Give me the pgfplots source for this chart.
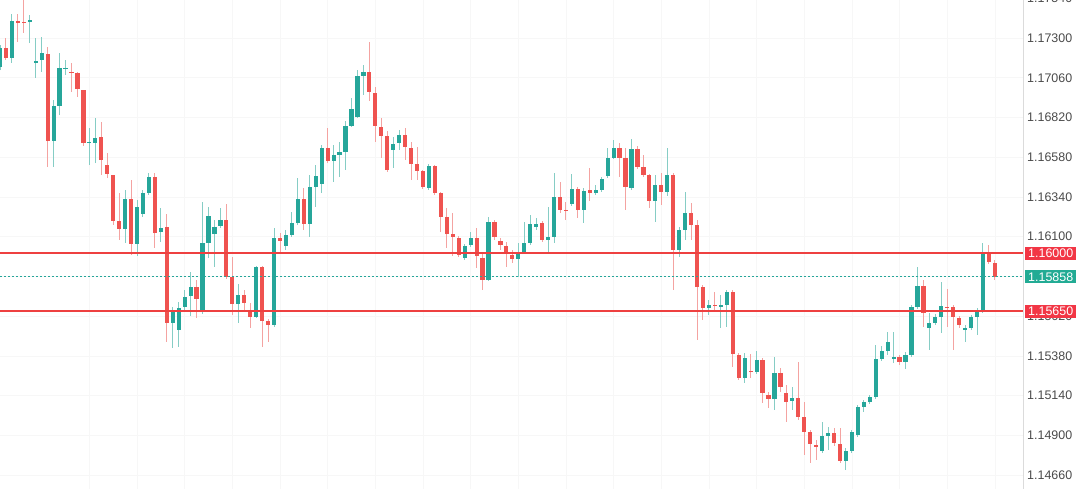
\documentclass[border=0pt]{standalone}
\usepackage{pgfplots}
\pgfplotsset{compat=1.18}
\usepackage{pgfplotstable}
\usepackage{fontspec}
\setmainfont{Liberation Sans}
\definecolor{upc}{HTML}{26A69A}
\definecolor{dnc}{HTML}{EF5350}
\definecolor{upw}{HTML}{86CDC5}
\definecolor{dnw}{HTML}{F4A3A1}
\definecolor{levelred}{RGB}{238,64,64}
\definecolor{tagred}{HTML}{F23645}
\definecolor{taggreen}{HTML}{22AB94}
\definecolor{lblgray}{HTML}{4A4A4A}
\pgfplotstableread{
i o h l c
0 1.17125 1.17258 1.17107 1.17240
2 1.17180 1.17445 1.17150 1.17403
5 1.17397 1.17439 1.17270 1.17409
6 1.17150 1.17300 1.17059 1.17162
7 1.17168 1.17307 1.17095 1.17210
9 1.16678 1.16926 1.16521 1.16890
10 1.16890 1.17210 1.16835 1.17119
11 1.17113 1.17168 1.17077 1.17119
15 1.16666 1.16757 1.16533 1.16672
16 1.16666 1.16817 1.16545 1.16697
21 1.16147 1.16383 1.16062 1.16328
23 1.16056 1.16322 1.15984 1.16280
24 1.16237 1.16383 1.16219 1.16365
25 1.16365 1.16485 1.16352 1.16461
27 1.16128 1.16274 1.16068 1.16153
29 1.15579 1.15676 1.15428 1.15646
30 1.15537 1.15706 1.15434 1.15670
31 1.15676 1.15779 1.15646 1.15737
32 1.15743 1.15887 1.15621 1.15797
34 1.15652 1.16310 1.15634 1.16062
35 1.16062 1.16280 1.15972 1.16225
36 1.16116 1.16201 1.15917 1.16159
37 1.16165 1.16274 1.16153 1.16201
40 1.15694 1.15815 1.15579 1.15749
43 1.15615 1.15923 1.15609 1.15917
46 1.15567 1.16153 1.15555 1.16092
48 1.16044 1.16141 1.16020 1.16110
49 1.16110 1.16250 1.16098 1.16183
50 1.16183 1.16455 1.16171 1.16328
52 1.16177 1.16473 1.16098 1.16401
53 1.16401 1.16533 1.16280 1.16467
54 1.16419 1.16654 1.16365 1.16636
56 1.16558 1.16654 1.16431 1.16594
57 1.16594 1.16672 1.16461 1.16612
58 1.16612 1.16799 1.16503 1.16769
59 1.16769 1.16939 1.16763 1.16872
60 1.16823 1.17107 1.16817 1.17071
61 1.17071 1.17137 1.16957 1.17095
66 1.16624 1.16703 1.16515 1.16660
67 1.16666 1.16745 1.16624 1.16715
72 1.16395 1.16539 1.16383 1.16527
78 1.15972 1.16056 1.15960 1.16044
79 1.16050 1.16128 1.16038 1.16092
82 1.15839 1.16219 1.15833 1.16189
87 1.15966 1.16062 1.15857 1.16002
88 1.16008 1.16189 1.15996 1.16062
89 1.16062 1.16231 1.16050 1.16177
90 1.16159 1.16213 1.16141 1.16177
92 1.16080 1.16280 1.16002 1.16098
93 1.16098 1.16485 1.16062 1.16340
96 1.16298 1.16479 1.16286 1.16389
98 1.16262 1.16395 1.16183 1.16377
100 1.16365 1.16413 1.16352 1.16383
101 1.16383 1.16461 1.16371 1.16449
102 1.16467 1.16636 1.16455 1.16576
103 1.16576 1.16684 1.16570 1.16636
106 1.16395 1.16690 1.16383 1.16630
110 1.16316 1.16473 1.16189 1.16413
112 1.16371 1.16636 1.16346 1.16473
114 1.16020 1.16159 1.15978 1.16141
115 1.16141 1.16371 1.16080 1.16243
119 1.15670 1.15718 1.15627 1.15688
121 1.15676 1.15749 1.15549 1.15688
122 1.15688 1.15779 1.15555 1.15767
125 1.15247 1.15398 1.15217 1.15368
127 1.15283 1.15410 1.15271 1.15356
130 1.15120 1.15374 1.15054 1.15277
133 1.15108 1.15193 1.15054 1.15126
138 1.14806 1.14981 1.14794 1.14897
139 1.14897 1.14951 1.14812 1.14915
142 1.14746 1.14824 1.14692 1.14806
143 1.14806 1.14933 1.14794 1.14921
144 1.14903 1.15084 1.14891 1.15072
145 1.15072 1.15114 1.15042 1.15102
146 1.15102 1.15145 1.15090 1.15133
147 1.15133 1.15446 1.15120 1.15362
148 1.15362 1.15440 1.15350 1.15410
149 1.15410 1.15525 1.15386 1.15464
150 1.15362 1.15525 1.15338 1.15374
152 1.15344 1.15404 1.15301 1.15386
153 1.15386 1.15688 1.15374 1.15676
154 1.15676 1.15917 1.15664 1.15803
156 1.15549 1.15640 1.15416 1.15579
157 1.15579 1.15634 1.15567 1.15615
158 1.15615 1.15827 1.15519 1.15682
162 1.15537 1.15567 1.15464 1.15549
163 1.15549 1.15627 1.15537 1.15615
164 1.15615 1.15670 1.15507 1.15646
165 1.15646 1.16062 1.15640 1.16002
}\updata
\pgfplotstableread{
i o h l c
1 1.17240 1.17300 1.17168 1.17180
3 1.17403 1.17445 1.17276 1.17391
4 1.17397 1.17530 1.17331 1.17391
8 1.17204 1.17246 1.16521 1.16678
12 1.17095 1.17150 1.16975 1.17089
13 1.17089 1.17095 1.16945 1.16993
14 1.16987 1.16987 1.16648 1.16666
17 1.16703 1.16793 1.16473 1.16564
18 1.16533 1.16606 1.16455 1.16479
19 1.16473 1.16473 1.16171 1.16195
20 1.16195 1.16365 1.16080 1.16147
22 1.16328 1.16443 1.15990 1.16056
26 1.16461 1.16485 1.16032 1.16122
28 1.16159 1.16237 1.15464 1.15579
33 1.15797 1.15839 1.15609 1.15724
38 1.16201 1.16298 1.15845 1.15857
39 1.15857 1.15978 1.15627 1.15694
41 1.15749 1.15779 1.15658 1.15700
42 1.15646 1.15700 1.15549 1.15615
44 1.15917 1.15923 1.15434 1.15591
45 1.15591 1.15603 1.15464 1.15567
47 1.16092 1.16122 1.16002 1.16074
51 1.16328 1.16395 1.16141 1.16177
55 1.16636 1.16757 1.16545 1.16558
62 1.17095 1.17276 1.16920 1.16975
63 1.16969 1.17005 1.16672 1.16769
64 1.16763 1.16817 1.16576 1.16709
65 1.16709 1.16739 1.16491 1.16503
68 1.16715 1.16757 1.16564 1.16642
69 1.16636 1.16672 1.16443 1.16539
70 1.16539 1.16642 1.16443 1.16497
71 1.16497 1.16503 1.16389 1.16401
73 1.16527 1.16533 1.16352 1.16365
74 1.16365 1.16371 1.16128 1.16219
75 1.16219 1.16274 1.16032 1.16116
76 1.16116 1.16243 1.15984 1.16098
77 1.16092 1.16104 1.15978 1.15990
80 1.16092 1.16153 1.15911 1.15984
81 1.15972 1.16008 1.15779 1.15839
83 1.16189 1.16201 1.16080 1.16098
84 1.16074 1.16092 1.16020 1.16050
85 1.16044 1.16068 1.15917 1.15996
86 1.15990 1.16020 1.15941 1.15966
91 1.16183 1.16195 1.16068 1.16080
94 1.16340 1.16431 1.16243 1.16262
95 1.16262 1.16310 1.16201 1.16256
97 1.16389 1.16401 1.16213 1.16262
99 1.16383 1.16515 1.16316 1.16365
104 1.16636 1.16666 1.16461 1.16576
105 1.16576 1.16636 1.16262 1.16401
107 1.16630 1.16648 1.16509 1.16521
108 1.16521 1.16594 1.16461 1.16473
109 1.16473 1.16479 1.16274 1.16316
111 1.16413 1.16485 1.16292 1.16371
113 1.16473 1.16485 1.15779 1.16020
116 1.16243 1.16304 1.16080 1.16171
117 1.16171 1.16201 1.15476 1.15797
118 1.15797 1.15809 1.15597 1.15670
120 1.15688 1.15767 1.15646 1.15682
123 1.15767 1.15779 1.15313 1.15392
124 1.15386 1.15398 1.15235 1.15247
126 1.15289 1.15392 1.15247 1.15283
128 1.15356 1.15368 1.15096 1.15157
129 1.15145 1.15163 1.15066 1.15120
131 1.15277 1.15307 1.15163 1.15193
132 1.15157 1.15205 1.14981 1.15102
134 1.15126 1.15344 1.14993 1.15011
135 1.15011 1.15102 1.14782 1.14921
136 1.14921 1.14933 1.14734 1.14848
137 1.14842 1.14873 1.14752 1.14830
140 1.14915 1.14945 1.14836 1.14855
141 1.14848 1.14945 1.14734 1.14746
151 1.15374 1.15386 1.15326 1.15344
155 1.15803 1.15839 1.15555 1.15640
159 1.15676 1.15785 1.15555 1.15670
160 1.15676 1.15688 1.15416 1.15615
161 1.15609 1.15621 1.15549 1.15567
166 1.16002 1.16050 1.15935 1.15948
167 1.15941 1.15960 1.15839 1.15858
}\dndata
\pgfplotstableread{
x lo mid hi
0 1.1565 1.15858 1.16
171.8 1.1565 1.15858 1.16
}\levels
\begin{document}
\begin{tikzpicture}
\useasboundingbox (0,0) rectangle (1080bp,489bp);
\begin{axis}[
  at={(0,0)}, anchor=south west,
  scale only axis, width=1023.5bp, height=494bp,
  xmin=0, xmax=171.8,
  ymin=1.145754, ymax=1.175602,
  axis line style={draw=none},
  tick style={draw=none},
  major tick length=0pt,
  scaled y ticks=false,
  xtick={15,23,...,167}, xticklabels={},
  ytick={1.1466,1.149,1.1514,1.1538,1.1562,1.1586,1.161,1.1634,1.1658,1.1682,1.1706,1.173,1.1754},
  yticklabels={1.14660,1.14900,1.15140,1.15380,1.15620,1.15860,1.16100,1.16340,1.16580,1.16820,1.17060,1.17300,1.17540},
  yticklabel pos=right,
  yticklabel style={font=\fontsize{12.5}{14}\selectfont, text=lblgray, anchor=west, inner sep=0pt, xshift=3.5bp},
  grid=major, grid style={draw=gray!6, line width=0.6bp},
  clip mode=individual,
]
\draw[gray!28, line width=0.8bp] (rel axis cs:1,0) -- (rel axis cs:1,1);
% wicks
\addplot[forget plot, draw=none, mark=none, error bars/.cd, y dir=plus, y explicit, error mark=none, error bar style={draw=upw, line width=1bp}]
  table[x=i, y=l, y error plus expr={\thisrow{h}-\thisrow{l}}] {\updata};
\addplot[forget plot, draw=none, mark=none, error bars/.cd, y dir=plus, y explicit, error mark=none, error bar style={draw=dnw, line width=1bp}]
  table[x=i, y=l, y error plus expr={\thisrow{h}-\thisrow{l}}] {\dndata};
% bodies
\addplot[forget plot, draw=none, mark=none, error bars/.cd, y dir=plus, y explicit, error mark=none, error bar style={draw=upc, line width=4.2bp, line cap=butt}]
  table[x=i, y=o, y error plus expr={\thisrow{c}-\thisrow{o}}] {\updata};
\addplot[forget plot, draw=none, mark=none, error bars/.cd, y dir=plus, y explicit, error mark=none, error bar style={draw=dnc, line width=4.2bp, line cap=butt}]
  table[x=i, y=c, y error plus expr={\thisrow{o}-\thisrow{c}}] {\dndata};
% levels
\addplot[forget plot, draw=levelred, mark=none, line width=1.5bp] table[x=x, y=hi] {\levels};
\addplot[forget plot, draw=levelred, mark=none, line width=1.5bp] table[x=x, y=lo] {\levels};
\addplot[forget plot, draw=upc, mark=none, line width=0.9bp, dash pattern=on 2bp off 2bp] table[x=x, y=mid] {\levels};
\coordinate (t1) at (axis cs:171.8,1.16);
\coordinate (t2) at (axis cs:171.8,1.15858);
\coordinate (t3) at (axis cs:171.8,1.1565);
\end{axis}
\tikzset{tag/.style={text=white, font=\fontsize{12.5}{14}\selectfont, anchor=west, minimum width=51bp, minimum height=13bp, inner sep=0pt}}
\node[tag, fill=tagred] at ([xshift=1.5bp]t1) {1.16000};
\node[tag, fill=taggreen] at ([xshift=1.5bp]t2) {1.15858};
\node[tag, fill=tagred] at ([xshift=1.5bp]t3) {1.15650};
\end{tikzpicture}
\end{document}
